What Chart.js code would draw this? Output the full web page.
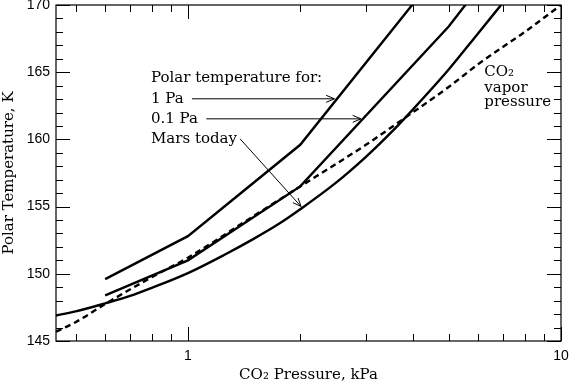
<!DOCTYPE html>
<html>
<head>
<meta charset="utf-8">
<script src="https://cdn.jsdelivr.net/npm/chart.js@4.4.1/dist/chart.umd.min.js"></script>
<style>
  body { margin: 0; background: #fff; }
  #chart { display: block; }
</style>
</head>
<body>
<canvas id="chart" width="570" height="384"></canvas>
<script>
// Datos (presion en kPa, temperatura en K)
const pressure1Pa = [0.6, 1, 2, 5];
const temp1Pa = [149.6, 152.8, 159.6, 173.4];

const pressure01Pa = [0.6, 1, 2, 5, 10];
const temp01Pa = [148.4, 151.0, 156.5, 168.4, 179.2];

const pressureMars = [0.443, 0.5, 0.6, 0.7, 0.8, 1, 1.25, 1.5, 1.75, 2, 2.5, 3, 3.5, 4, 5, 6, 7];
const tempMars = [146.9, 147.2, 147.8, 148.35, 148.95, 150.05, 151.4, 152.6, 153.7, 154.8, 156.8, 158.7, 160.5, 162.2, 165.2, 167.9, 170.2];

const pressureVapor = [0.443, 0.5, 0.6, 0.8, 1, 1.5, 2, 3, 4, 5, 6, 7, 8, 10];
const tempVapor = [145.7, 146.4, 147.75, 149.75, 151.2, 154.3, 156.5, 159.6, 162.0, 163.9, 165.6, 166.9, 168.0, 170.0];

// Marcas de los ejes
const xTickValues = [0.5, 0.6, 0.7, 0.8, 0.9, 1, 2, 3, 4, 5, 6, 7, 8, 9, 10];
const xLabeled = [1, 10];
const yTickValues = [145, 146, 147, 148, 149, 150, 151, 152, 153, 154, 155, 156, 157, 158, 159, 160, 161, 162, 163, 164, 165, 166, 167, 168, 169, 170];
const yLabeled = [145, 150, 155, 160, 165, 170];

const toPoints = (xs, ys) => xs.map((v, i) => ({ x: v, y: ys[i] }));

const serif = '"DejaVu Serif", serif';

// Anotaciones en coordenadas de datos
const notes = [
  { text: 'Polar temperature for:', p: 0.796, t: 164.58 },
  { text: '1 Pa', p: 0.796, t: 163.02 },
  { text: '0.1 Pa', p: 0.796, t: 161.53 },
  { text: 'Mars today', p: 0.796, t: 160.04 },
  { text: 'CO\u2082', p: 6.23, t: 165.02 },
  { text: 'vapor', p: 6.23, t: 163.83 },
  { text: 'pressure', p: 6.23, t: 162.79 }
];
const arrows = [
  { from: [1.025, 163.02], to: [2.47, 163.02] },
  { from: [1.12, 161.53], to: [2.91, 161.53] },
  { from: [1.38, 160.04], to: [2.01, 155.01] }
];

const frameTicks = {
  id: 'frameTicks',
  afterDraw(chart) {
    const { ctx, chartArea: a, scales: { x, y } } = chart;
    ctx.save();
    ctx.strokeStyle = '#000';
    ctx.lineWidth = 1.2;
    ctx.strokeRect(a.left, a.top, a.right - a.left, a.bottom - a.top);

    ctx.lineWidth = 1;
    ctx.beginPath();
    xTickValues.forEach(v => {
      const px = Math.round(x.getPixelForValue(v)) + 0.5;
      const len = xLabeled.includes(v) ? 14 : 7;
      ctx.moveTo(px, a.bottom); ctx.lineTo(px, a.bottom - len);
      ctx.moveTo(px, a.top); ctx.lineTo(px, a.top + len);
    });
    yTickValues.forEach(v => {
      const py = Math.round(y.getPixelForValue(v)) + 0.5;
      const len = yLabeled.includes(v) ? 14 : 7;
      ctx.moveTo(a.left, py); ctx.lineTo(a.left + len, py);
      ctx.moveTo(a.right, py); ctx.lineTo(a.right - len, py);
    });
    ctx.stroke();

    // textos
    ctx.fillStyle = '#000';
    ctx.font = '15px ' + serif;
    ctx.textBaseline = 'middle';
    ctx.textAlign = 'left';
    notes.forEach(n => {
      ctx.fillText(n.text, x.getPixelForValue(n.p), y.getPixelForValue(n.t));
    });

    // flechas
    ctx.lineWidth = 1;
    arrows.forEach(ar => {
      const x0 = x.getPixelForValue(ar.from[0]), y0 = y.getPixelForValue(ar.from[1]);
      const x1 = x.getPixelForValue(ar.to[0]), y1 = y.getPixelForValue(ar.to[1]);
      const ang = Math.atan2(y1 - y0, x1 - x0);
      const head = 9, spread = 0.4;
      ctx.beginPath();
      ctx.moveTo(x0, y0); ctx.lineTo(x1, y1);
      ctx.moveTo(x1 - head * Math.cos(ang - spread), y1 - head * Math.sin(ang - spread));
      ctx.lineTo(x1, y1);
      ctx.lineTo(x1 - head * Math.cos(ang + spread), y1 - head * Math.sin(ang + spread));
      ctx.stroke();
    });
    ctx.restore();
  }
};

const solid = { borderColor: '#000', borderWidth: 2.4, pointRadius: 0, fill: false };

new Chart(document.getElementById('chart'), {
  type: 'line',
  data: {
    datasets: [
      { ...solid, label: '1 Pa', data: toPoints(pressure1Pa, temp1Pa), tension: 0 },
      { ...solid, label: '0.1 Pa', data: toPoints(pressure01Pa, temp01Pa), tension: 0 },
      { ...solid, label: 'Mars today', data: toPoints(pressureMars, tempMars), cubicInterpolationMode: 'monotone' },
      { ...solid, label: 'CO2 vapor pressure', data: toPoints(pressureVapor, tempVapor), borderDash: [6, 4], cubicInterpolationMode: 'monotone' }
    ]
  },
  options: {
    responsive: false,
    animation: false,
    layout: { padding: { top: 5, right: 9, left: 0, bottom: 0 } },
    plugins: { legend: { display: false }, tooltip: { enabled: false } },
    scales: {
      x: {
        type: 'logarithmic',
        min: 0.443,
        max: 10,
        grid: { display: false, drawTicks: false },
        border: { display: false },
        afterBuildTicks: s => { s.ticks = xTickValues.map(v => ({ value: v })); },
        afterFit: s => { s.height = 43; s.paddingLeft = 0; s.paddingRight = 0; },
        ticks: {
          autoSkip: false,
          maxRotation: 0,
          padding: 7,
          color: '#000',
          font: { family: '"Liberation Sans", Arial, sans-serif', size: 14 },
          callback: v => xLabeled.includes(v) ? String(v) : ''
        },
        title: {
          display: true,
          text: 'CO\u2082 Pressure, kPa',
          color: '#000',
          font: { family: serif, size: 15 },
          padding: { top: 2, bottom: 0 }
        }
      },
      y: {
        min: 145,
        max: 170,
        grid: { display: false, drawTicks: false },
        border: { display: false },
        afterFit: s => { s.width = 56; s.paddingTop = 0; s.paddingBottom = 0; },
        ticks: {
          stepSize: 5,
          padding: 6,
          color: '#000',
          font: { family: '"Liberation Sans", Arial, sans-serif', size: 14 }
        },
        title: {
          display: true,
          text: 'Polar Temperature, K',
          color: '#000',
          font: { family: serif, size: 15 },
          padding: { top: 0, bottom: 0 }
        }
      }
    }
  },
  plugins: [frameTicks]
});
</script>
</body>
</html>
